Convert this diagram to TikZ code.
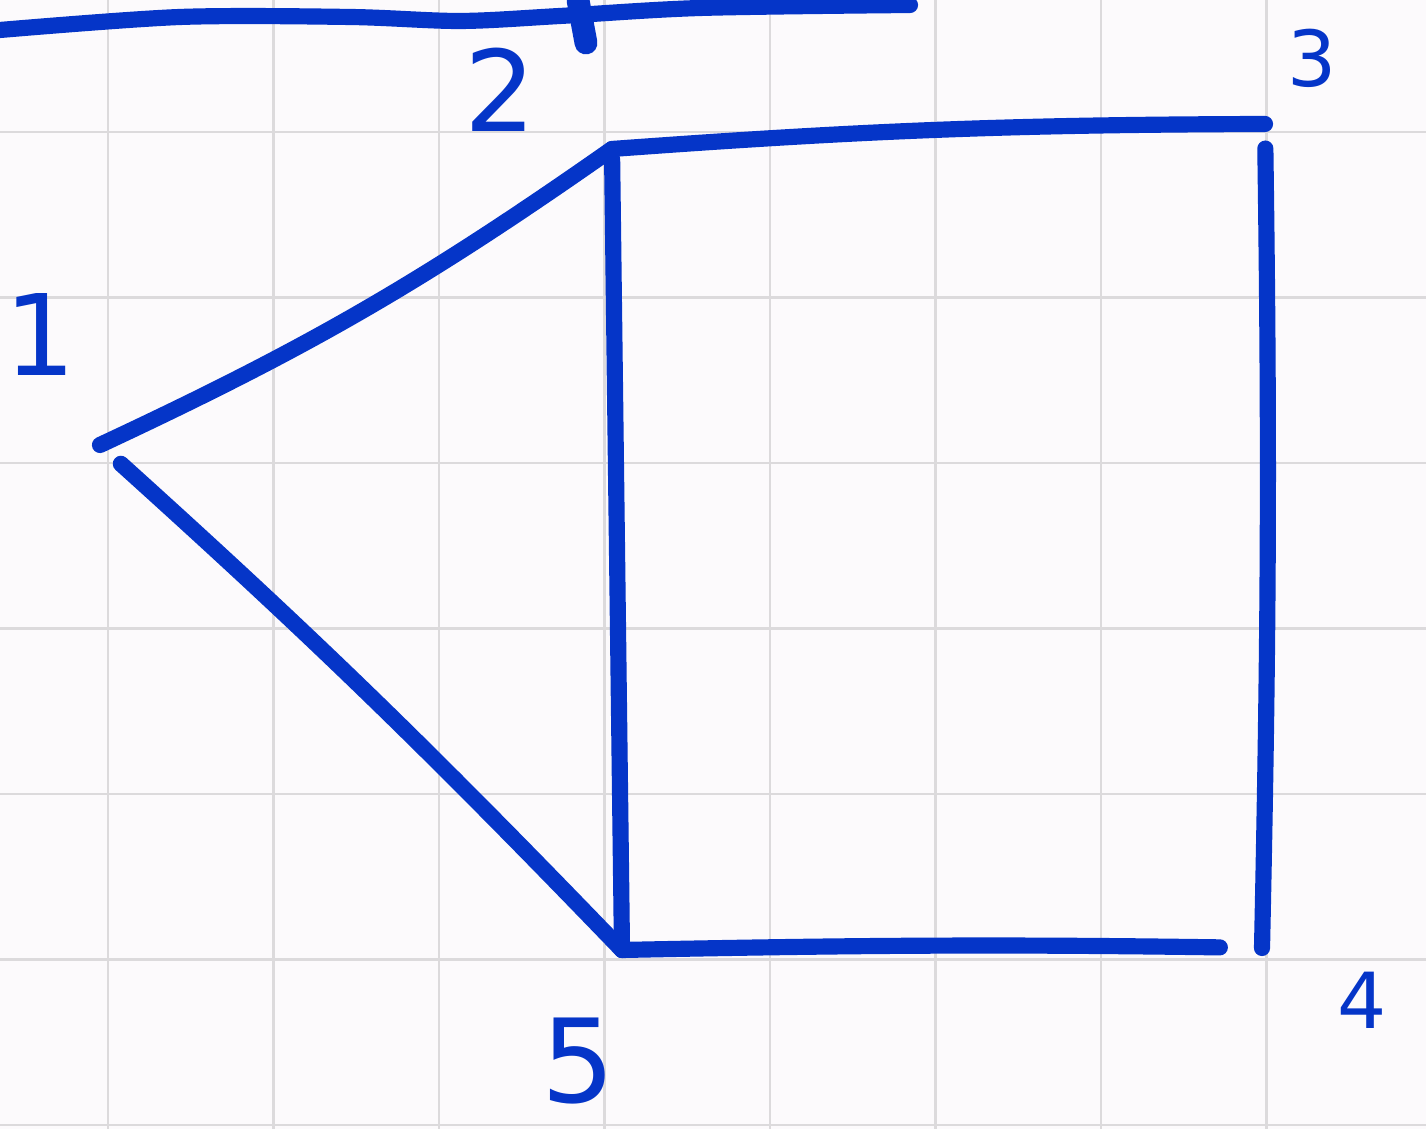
\documentclass[tikz,border=0pt]{standalone}
\usepackage{fontspec}
\setmainfont{DejaVu Sans}
\definecolor{inkblue}{HTML}{0535C8}
\definecolor{gridgray}{HTML}{DCDADC}
\tikzset{
  pen/.style={inkblue, line width=4.6pt, line cap=round, line join=round},
  gridline/.style={gridgray, line width=0.8pt},
  numlabel/.style={inkblue, inner sep=0pt}
}
\begin{document}
\begin{tikzpicture}
\useasboundingbox (0,0) rectangle (14.26,11.29);
\fill[white!98!violet] (0,0) rectangle (14.26,11.29);
% squared paper
\foreach \i in {0,...,7}
  \draw[gridline] (1.08+1.655*\i,0) -- ++(0,11.29);
\foreach \j in {0,...,6}
  \draw[gridline] (0,0.04+1.655*\j) -- ++(14.26,0);
% stroke cut off at the top
\draw[pen] plot[smooth] coordinates {(0,10.99) (1.8,11.12) (3.5,11.12) (4.6,11.08) (5.6,11.13) (7.0,11.21) (9.1,11.24)};
\draw[pen, line width=6.5pt] (5.78,11.29) -- (5.86,10.86);
% vertices
\coordinate (v1) at (1.00,6.84);
\coordinate (v2) at (6.12,9.80);
\coordinate (v3) at (12.65,10.05);
\coordinate (v4) at (12.62,1.81);
\coordinate (v5) at (6.22,1.79);
% edges
\draw[pen] (v1) to[bend right=5] (v2);
\draw[pen, shorten <=8pt] (v1) to[bend left=2] (v5);
\draw[pen, shorten <=3pt] (v2) -- (v5);
\draw[pen] (v2) to[bend left=2] (v3);
\draw[pen, shorten <=7pt] (v3) to[bend left=1] (v4);
\draw[pen, shorten >=12pt] (v5) to[bend left=1] (v4);
% labels
\node[numlabel, font=\fontsize{32}{32}\selectfont] (l1) at (0.40,7.94) {1};
\node[numlabel, font=\fontsize{32}{32}\selectfont] (l2) at (5.00,10.39) {2};
\node[numlabel, font=\fontsize{22}{22}\selectfont] (l3) at (13.12,10.71) {3};
\node[numlabel, font=\fontsize{22}{22}\selectfont] (l4) at (13.62,1.29) {4};
\node[numlabel, font=\fontsize{33}{33}\selectfont] (l5) at (5.78,0.68) {5};
\end{tikzpicture}
\end{document}
